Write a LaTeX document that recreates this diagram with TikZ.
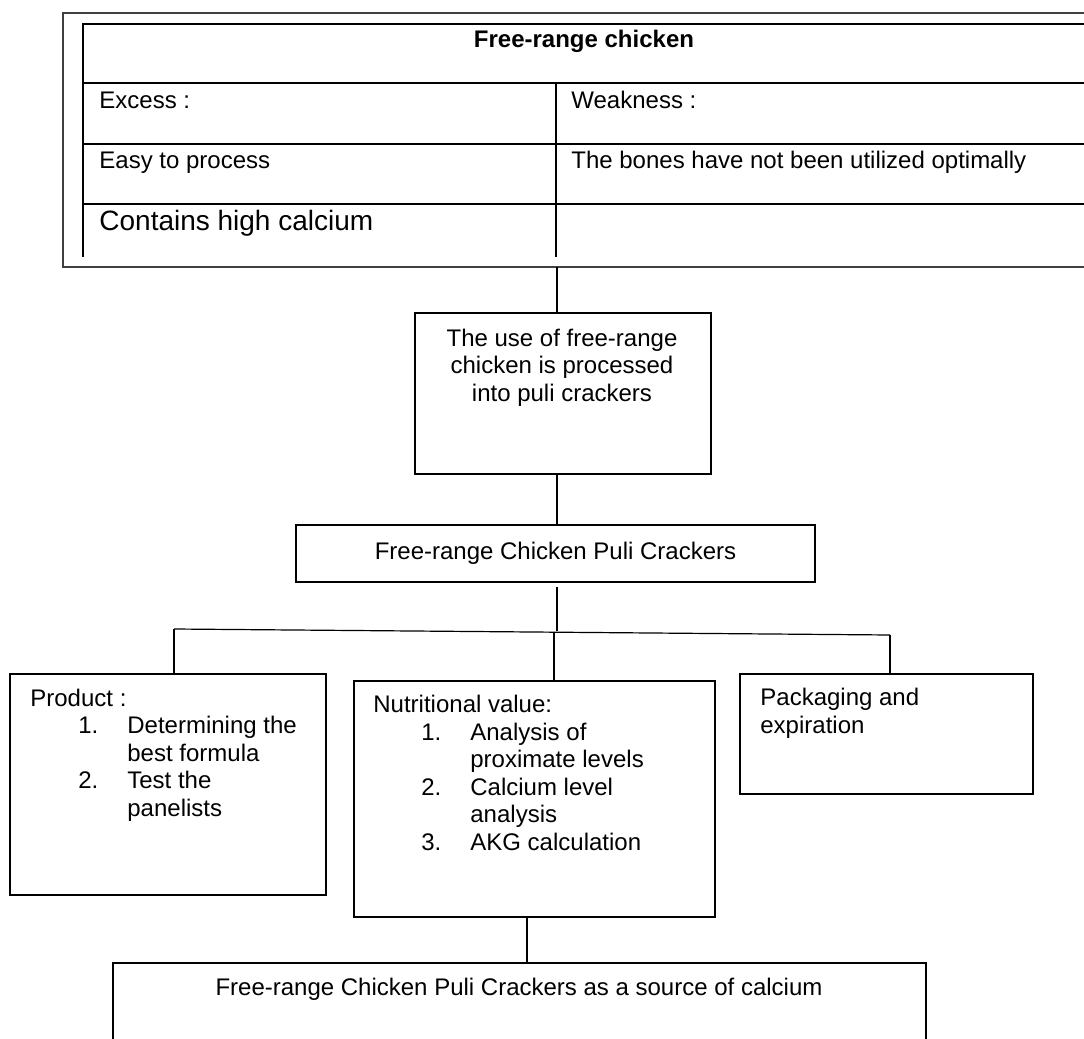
\documentclass[tikz,border=0pt]{standalone}
\usepackage{fontspec}
\setmainfont{Liberation Sans}
\usetikzlibrary{calc}
\tikzset{box/.style={draw, line width=0.75pt, inner sep=0pt}}
\tikzset{txt/.style={inner sep=0pt, font=\fontsize{12}{13.75}\selectfont}}
\tikzset{rule/.style={line width=0.6pt}}
\tikzset{frame/.style={line width=0.9pt, black!75}}
\newcommand{\numitem}[1]{\hspace*{24pt}\makebox[24.5pt][l]{#1}}
\newcommand{\contitem}{\hspace*{48.5pt}}

\begin{document}
\begin{tikzpicture}[x=0.5pt, y=-0.5pt]

    \clip (0,0) rectangle (1084,1039);
    \fill[white] (0,0) rectangle (1084,1039);

    % table on top
    \draw[frame] (1090,13) -- (63,13) -- (63,267) -- (1090,267);
    \draw[rule] (1090,24) -- (83,24) -- (83,257);
    \foreach \y in {83,144,204}
        \draw[rule] (83,\y) -- (1090,\y);
    \draw[rule] (556,83) -- (556,257);

    \node[txt, font=\fontsize{12}{13.75}\selectfont\bfseries, anchor=base] (title) at (584,47) {Free-range chicken};
    \node[txt, anchor=base west] (excess) at (99,108) {Excess :};
    \node[txt, anchor=base west] (weak) at (571,108) {Weakness :};
    \node[txt, anchor=base west] (easy) at (99,168) {Easy to process};
    \node[txt, anchor=base west] (bones) at (571,168) {The bones have not been utilized optimally};
    \node[txt, font=\fontsize{14}{16}\selectfont, anchor=base west] (calcium) at (99,230) {Contains high calcium};

    % boxes (text anchored at the baseline of its last line)
    \node[box, minimum width=148pt, minimum height=80.5pt] (use) at (563,393.5) {};
    \node[txt, align=center, anchor=base] (usetext) at (562,401) {The use of free-range\\chicken is processed\\into puli crackers};

    \node[box, font=\fontsize{12}{13.75}\selectfont, minimum width=259.5pt, minimum height=28.5pt] (crack) at (555.5,553.5) {Free-range Chicken Puli Crackers};


    \node[box, minimum width=158pt, minimum height=110.5pt] (prod) at (168,784.5) {};
    \node[txt, align=left, anchor=base west] (prodtext) at (30,816) {Product :\\
        \numitem{1.}Determining the\\ \contitem best formula\\
        \numitem{2.}Test the\\ \contitem panelists};

    \node[box, minimum width=180.5pt, minimum height=118pt] (nutr) at (534.5,799) {};
    \node[txt, align=left, anchor=base west] (nutrtext) at (373,850) {Nutritional value:\\
        \numitem{1.}Analysis of\\ \contitem proximate levels\\
        \numitem{2.}Calcium level\\ \contitem analysis\\
        \numitem{3.}AKG calculation};

    \node[box, minimum width=146.5pt, minimum height=60pt] (pack) at (886.5,734) {};
    \node[txt, align=left, anchor=base west] (packtext) at (760,733) {Packaging and\\expiration};

    \node[box, minimum width=406.5pt, minimum height=58.5pt] (src) at (519.5,1021.5) {};
    \node[txt, anchor=base] (srctext) at (519,995) {Free-range Chicken Puli Crackers as a source of calcium};

    % connectors
    \coordinate (frm) at (557,267);
    \coordinate (hub) at (557,631);
    \coordinate (busl) at (174,629);
    \coordinate (busm) at (554,632);
    \coordinate (busr) at (890,635);

    \draw[rule] (frm) -- (frm |- use.north);
    \draw[rule] (use.south -| frm) -- (crack.north -| frm);
    \draw[rule] ([yshift=-2pt]crack.south -| frm) -- (hub);
    \draw[rule] (busl) -- (busr);
    \draw[rule] (busl) -- (busl |- prod.north);
    \draw[rule] (busm) -- (busm |- nutr.north);
    \draw[rule] (busr) -- (busr |- pack.north);
    \draw[rule] ([xshift=-3.75pt]nutr.south) -- ([xshift=-3.75pt]nutr.south |- src.north);

\end{tikzpicture}
\end{document}
